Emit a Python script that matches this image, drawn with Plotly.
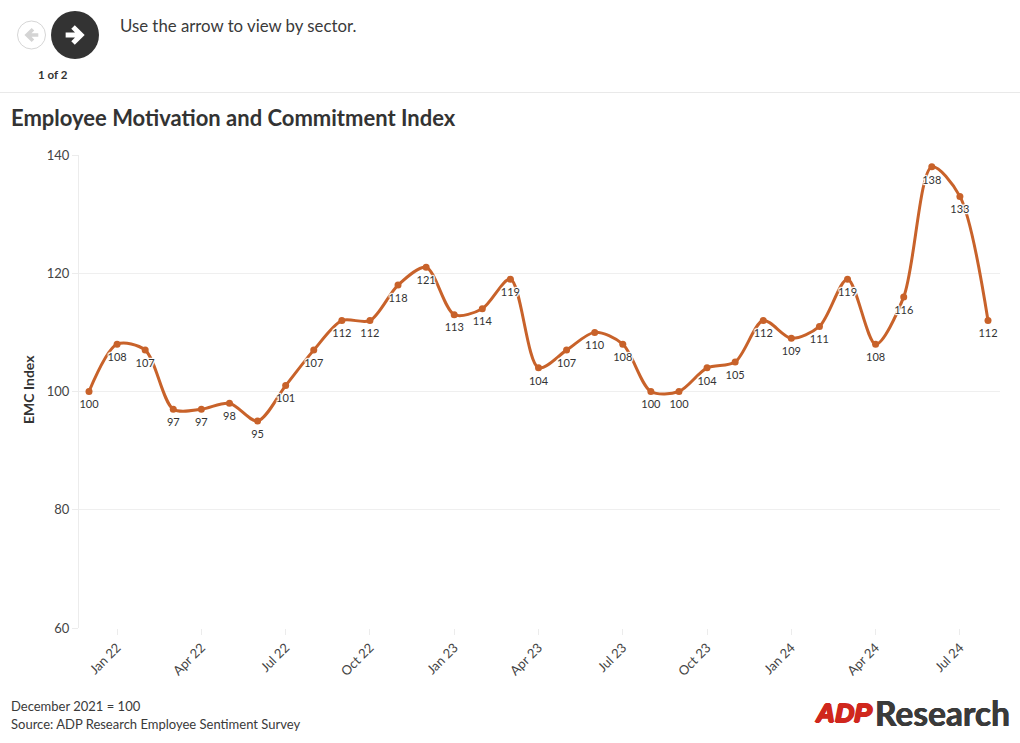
import plotly.graph_objects as go

FONT = "Lato"
INK = "#3a3a3a"
months = ["Dec 21","Jan 22","Feb 22","Mar 22","Apr 22","May 22","Jun 22","Jul 22","Aug 22","Sep 22","Oct 22","Nov 22",
          "Dec 22","Jan 23","Feb 23","Mar 23","Apr 23","May 23","Jun 23","Jul 23","Aug 23","Sep 23","Oct 23","Nov 23",
          "Dec 23","Jan 24","Feb 24","Mar 24","Apr 24","May 24","Jun 24","Jul 24","Aug 24"]
emc = [100,108,107,97,97,98,95,101,107,112,112,118,121,113,114,119,104,107,110,108,100,100,104,105,112,109,111,119,108,116,138,133,112]
tick_labels = ["Jan 22","Apr 22","Jul 22","Oct 22","Jan 23","Apr 23","Jul 23","Oct 23","Jan 24","Apr 24","Jul 24"]
y_ticks = [60,80,100,120,140]

L, R, T, B = 79, 1000, 155, 628
W, H = 1020, 743
def px(x): return (x - L) / (R - L)
def py(y): return 1 - (y - T) / (B - T)
def path(points):
    return "M " + " L ".join(f"{px(x):.5f},{py(y):.5f}" for x, y in points) + " Z"

halo = "1px 0 1px #fff, -1px 0 1px #fff, 0 1px 1px #fff, 0 -1px 1px #fff, 1px 1px 1px #fff, -1px -1px 1px #fff, 1px -1px 1px #fff, -1px 1px 1px #fff"
fig = go.Figure()
fig.add_trace(go.Scatter(
    x=months, y=emc, mode="lines+markers",
    line=dict(color="#c8622a", width=3, shape="spline", smoothing=0.85),
    marker=dict(color="#c8622a", size=7),
    cliponaxis=False, showlegend=False, hoverinfo="skip"))
fig.add_trace(go.Scatter(
    x=months, y=emc, mode="markers+text",
    marker=dict(size=12, opacity=0),
    text=[str(v) for v in emc], textposition="bottom center",
    textfont=dict(family=FONT, size=11, color="#333333", shadow=halo),
    cliponaxis=False, showlegend=False, hoverinfo="skip"))

def shape_circle(x0, y0, x1, y1, **kw):
    return dict(type="circle", xref="paper", yref="paper", x0=px(x0), x1=px(x1), y0=py(y0), y1=py(y1), **kw)
def arrow(cx, cy, s):
    pts = [(-0.85,-0.22),(0.0,-0.22),(-0.34,-0.56),(-0.02,-0.88),(0.88,0),(-0.02,0.88),(-0.34,0.56),(0.0,0.22),(-0.85,0.22)]
    return [(cx + s*a, cy + s*b) for a, b in pts]
def arrow_left(cx, cy, s):
    return [(2*cx - x, y) for x, y in arrow(cx, cy, s)]

shapes = [
    dict(type="line", xref="paper", yref="paper", x0=px(0), x1=px(W), y0=py(92.5), y1=py(92.5), line=dict(color="#e9e9e9", width=1)),
    shape_circle(17.5, 21, 45.5, 49, line=dict(color="#d6d6d6", width=1), fillcolor="#fff"),
    dict(type="path", xref="paper", yref="paper", path=path(arrow_left(31.5, 35, 8)), fillcolor="#d4d4d4", line=dict(width=0)),
    shape_circle(51, 11, 99, 59, line=dict(width=0), fillcolor="#333333"),
    dict(type="path", xref="paper", yref="paper", path=path(arrow(75, 35, 11)), fillcolor="#ffffff", line=dict(width=0)),
]

def note(x, y, text, size, color=INK, anchor="left", weight=None, family=FONT, shadow=None, **kw):
    t = f"<b>{text}</b>" if weight else text
    dx = {"left": -2, "right": 2, "center": 0}[anchor]
    f = dict(family=family, size=size, color=color)
    if shadow:
        f["shadow"] = shadow
    return dict(xref="paper", yref="paper", x=px(x + dx), y=py(y), text=t, showarrow=False, xanchor=anchor, yanchor="middle",
                font=f, **kw)

annots = [
    note(120, 25, "Use the arrow to view by sector.", 16.8),
    note(53, 74, "1 of 2", 11.5, "#333333", "center", True),
    note(11, 117, "Employee Motivation and Commitment Index", 22, "#333333", weight=True),
    note(28, 390, "EMC Index", 14, "#333333", "center", True, textangle=-90),
    note(11, 706, "December 2021 = 100", 13, ),
    note(11, 724, "Source: ADP Research Employee Sentiment Survey", 13),
    note(815, 713, "<i>ADP</i>", 26.5, "#d0271d", weight=True, family="Liberation Sans",
         shadow="1px 0 0 #d0271d, -1px 0 0 #d0271d, 0 1px 0 #d0271d, 0 -1px 0 #d0271d"),
    note(1010, 713, "Research", 33.5, "#3a3a3a", "right", True, family="Lato",
         shadow="0.4px 0 0 #3a3a3a, -0.4px 0 0 #3a3a3a"),
]

fig.update_layout(
    width=W, height=H, margin=dict(l=L, r=W-R, t=T, b=H-B, pad=0),
    paper_bgcolor="#fff", plot_bgcolor="#fff", shapes=shapes, annotations=annots,
    font=dict(family=FONT, color=INK),
    xaxis=dict(type="category", categoryorder="array", categoryarray=months, range=[-10/28.09, 32+12/28.09],
               tickmode="array", tickvals=tick_labels, ticktext=tick_labels,
               tickangle=-45, ticks="outside", ticklen=6, tickcolor="#ececec", tickfont=dict(family=FONT, size=13, color="#444444"),
               showgrid=False, zeroline=False, showline=False),
    yaxis=dict(range=[60,140], tickmode="array", tickvals=y_ticks, ticks="outside", ticklen=6, tickcolor="#ececec",
               tickfont=dict(family=FONT, size=13, color="#444444"), gridcolor="#efefef", gridwidth=1,
               showline=True, linecolor="#ececec", linewidth=1, zeroline=False),
)
fig.write_html("out.html", config=dict(displayModeBar=False), post_script="document.body.style.margin='0';")
